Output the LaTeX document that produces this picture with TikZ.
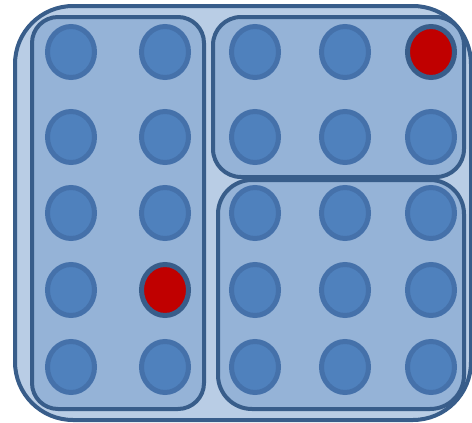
\documentclass[tikz,border=0pt]{standalone}
\usetikzlibrary{shapes.geometric}
\definecolor{edgeblue}{HTML}{385D8A}
\definecolor{paleblue}{HTML}{B9CDE5}
\definecolor{boxblue}{HTML}{95B3D7}
\definecolor{dotblue}{HTML}{4F81BD}
\definecolor{ringblue}{HTML}{4571AA}
\definecolor{hitred}{HTML}{C00000}
\tikzset{
  frame/.style={draw=edgeblue, line width=4pt},
  dot/.style={ellipse, draw=ringblue, fill=dotblue, line width=5pt,
    minimum width=47pt, minimum height=51pt, inner sep=0pt},
  dot e1/.style={draw=edgeblue, fill=hitred},
  dot b4/.style={draw=edgeblue, fill=hitred}
}
\begin{document}
\begin{tikzpicture}[x=1pt, y=-1pt]
  \useasboundingbox (0,0) rectangle (472,423);
  % outer block
  \draw[frame, fill=paleblue, rounded corners=58pt] (15,6) rectangle (471,420);
  % the three groups
  \draw[frame, fill=boxblue, rounded corners=26pt] (32,17) rectangle (204,409);
  \draw[frame, fill=boxblue, rounded corners=28pt] (213,17) rectangle (464,177);
  \draw[frame, fill=boxblue, rounded corners=34pt] (218,180) rectangle (464,409);

  \foreach \x/\c in {71/a, 165/b, 255/c, 345/d, 431/e}
    \foreach \y/\r in {52/1, 137/2, 213/3, 290/4, 367/5}
      \node[dot, dot \c\r/.try] (\c\r) at (\x,\y) {};
\end{tikzpicture}
\end{document}
